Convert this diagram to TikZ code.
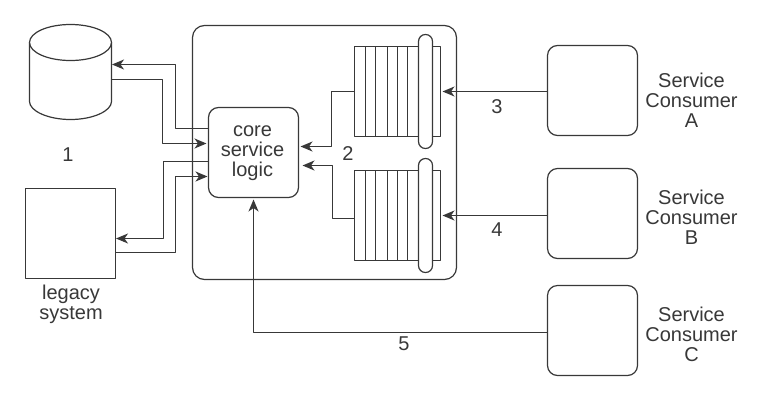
\documentclass[tikz,border=0pt]{standalone}
\usepackage{fontspec}
\setmainfont{Liberation Sans}
\usetikzlibrary{arrows.meta}
\definecolor{ink}{gray}{0.22}
\tikzset{
  box/.style={draw=ink,rectangle,inner sep=0pt,outer sep=0pt,minimum width=#1,minimum height=#1},
  roundbox/.style={box=#1,rounded corners=10pt},
  queuebox/.style={draw=ink,rectangle,inner sep=0pt,outer sep=0pt,minimum width=86pt,minimum height=90pt},
  pill/.style={draw=ink,fill=white,rectangle,rounded corners=6.9pt,inner sep=0pt,outer sep=0pt,minimum width=14pt,minimum height=114pt},
  label/.style={text=ink,align=center,inner sep=0pt,font=\fontsize{20}{20}\selectfont},
  link/.style={draw=ink,-{Stealth[length=12pt,width=10pt,inset=3.5pt]}},
}
\begin{document}
\begin{tikzpicture}[x=1pt,y=-1pt,line width=1.2pt,line join=round]
\useasboundingbox (0,0) rectangle (759,402);
% outer service
\node[draw=ink,rectangle,rounded corners=12pt,inner sep=0pt,outer sep=0pt,minimum width=264pt,minimum height=254pt] (service) at (324.5,152.5) {};
\node[roundbox=90pt] (core) at (253.5,152.5) {};
\node[label] (coretext) at (252.5,153.5) {core\\service\\logic};
% stores on the left
\node[rectangle,inner sep=0pt,outer sep=0pt,minimum width=82pt,minimum height=95pt] (db) at (70.5,71.5) {};
\draw[draw=ink] (70.5,42.5) ellipse [x radius=41pt,y radius=18pt];
\draw[draw=ink] (29.5,42.5) -- (29.5,101.5) .. controls (29.5,111) and (48,119.5) .. (70.5,119.5)
    .. controls (93,119.5) and (111.5,111) .. (111.5,101.5) -- (111.5,42.5);
\node[box=90pt] (legacy) at (70.5,233.5) {};
\node[label] (one) at (68,155) {1};
\node[label] (legacytext) at (71,304) {legacy\\system};
% queues
\foreach \name/\cy in {queuea/91.5,queueb/215.5} {
  \node[queuebox] (\name) at (397.5,\cy) {};
  \foreach \x in {365.5,375.5,387.5,397.5,407.5}
    \draw[draw=ink] (\x,\cy-45) -- (\x,\cy+45);
  \node[pill] (\name pill) at (425.5,\cy) {};
}
% consumers
\node[roundbox=90pt] (consa) at (592.5,90.5) {};
\node[roundbox=90pt] (consb) at (592.5,213.5) {};
\node[roundbox=90pt] (consc) at (592.5,330.5) {};
\node[label] (consatext) at (691.5,100) {Service\\Consumer\\A};
\node[label] (consbtext) at (691.5,217) {Service\\Consumer\\B};
\node[label] (consctext) at (691.5,334) {Service\\Consumer\\C};
% numbers
\node[label] (two) at (348,154) {2};
\node[label] (three) at (497,107) {3};
\node[label] (four) at (497,230) {4};
\node[label] (five) at (404,344) {5};
% connectors
\draw[link,shorten >=0.5pt] ([yshift=24pt]core.west) -- ++(-33,0) |- ([yshift=7pt]db.east);
\draw[link,shorten >=2pt] ([yshift=-8pt]db.east) -- ++(51,0) |- ([yshift=9pt]core.west);
\draw[link,shorten >=0.5pt] ([yshift=-9pt]core.west) -- ++(-45,0) |- ([yshift=-5pt]legacy.east);
\draw[link,shorten >=1pt] ([yshift=-19pt]legacy.east) -- ++(60,0) |- ([yshift=-24pt]core.west);
\draw[link,shorten >=2pt] (queuea.west) -- ++(-23,0) |- ([yshift=6pt]core.east);
\draw[link,shorten >=4pt] ([yshift=-3pt]queueb.west) -- ++(-22,0) |- ([yshift=-13pt]core.east);
\draw[link,shorten >=2pt] (consa.west |- queuea.east) -- (queuea.east);
\draw[link,shorten >=2pt] (consb.west |- queueb.east) -- (queueb.east);
\draw[link,shorten >=2pt] ([yshift=-2pt]consc.west) -| (core.south);
\end{tikzpicture}
\end{document}
